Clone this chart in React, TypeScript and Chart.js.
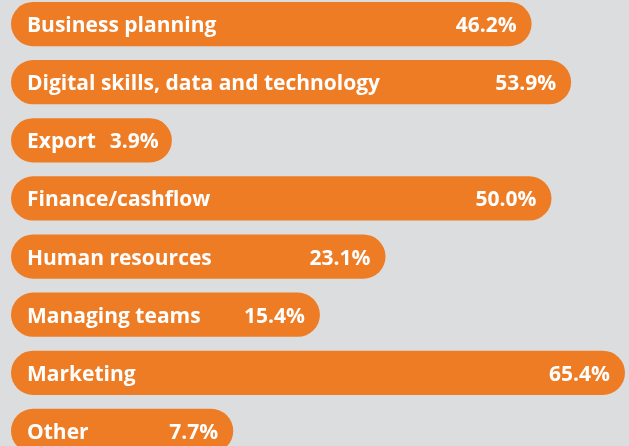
import React, { useEffect, useRef } from "react";
import { Chart, registerables, LinearScale } from "chart.js";

const categories = [
  "Business planning",
  "Digital skills, data and technology",
  "Export",
  "Finance/cashflow",
  "Human resources",
  "Managing teams",
  "Marketing",
  "Other",
];
const values = [46.2, 53.9, 3.9, 50.0, 23.1, 15.4, 65.4, 7.7];

const BG = "#dcdddf";
const ORANGE = "#ee7c25";
const FONT = "'Open Sans'";
const EXPONENT = 0.475;

// Power scale: the infographic's bar lengths grow roughly with a power of the value.
class PowScale extends LinearScale {
  static id = "pow";
  static defaults = LinearScale.defaults;
  _f(v: number) {
    return Math.pow(Math.max(0, v), EXPONENT);
  }
  getPixelForValue(value: any) {
    if (value === null || value === undefined || isNaN(value)) return NaN;
    const lo = this._f(this.min);
    const hi = this._f(this.max);
    return this.getPixelForDecimal((this._f(value) - lo) / (hi - lo));
  }
  getValueForPixel(pixel: number) {
    const d = this.getDecimalForPixel(pixel);
    const lo = this._f(this.min);
    const hi = this._f(this.max);
    return Math.pow(lo + d * (hi - lo), 1 / EXPONENT);
  }
}

Chart.register(...registerables, PowScale as any);

const labelPlugin = {
  id: "barLabels",
  afterDatasetsDraw(chart: any) {
    const ctx = chart.ctx;
    const meta = chart.getDatasetMeta(0);
    ctx.save();
    ctx.fillStyle = "#ffffff";
    ctx.font = `bold 21px ${FONT}`;
    ctx.textBaseline = "alphabetic";
    meta.data.forEach((bar: any, i: number) => {
      const y = bar.y + 8;
      const lx = chart.chartArea.left + 16;
      const label = categories[i];
      const val = values[i].toFixed(1) + "%";
      ctx.textAlign = "left";
      ctx.fillText(label, lx, y);
      const minRight = lx + ctx.measureText(label).width + 14 + ctx.measureText(val).width;
      ctx.textAlign = "right";
      ctx.fillText(val, Math.max(bar.x - 15, minRight), y);
    });
    ctx.restore();
  },
};

export default function App() {
  const ref = useRef<HTMLCanvasElement>(null);
  useEffect(() => {
    document.body.style.margin = "0";
    document.body.style.background = BG;
    const chart = new Chart(ref.current!, {
      type: "bar",
      data: {
        labels: categories,
        datasets: [
          {
            data: values,
            backgroundColor: ORANGE,
            borderRadius: 30,
            borderSkipped: false,
            categoryPercentage: 1,
            barPercentage: 0.762,
          },
        ],
      },
      options: {
        indexAxis: "y",
        animation: false,
        responsive: false,
        maintainAspectRatio: false,
        layout: { padding: { left: 11, right: 0, top: 0, bottom: 0 } },
        plugins: { legend: { display: false }, tooltip: { enabled: false } },
        scales: {
          x: { type: "pow" as any, min: 0, max: 66.3, display: false, grid: { display: false } },
          y: { display: false, grid: { display: false } },
        },
      },
      plugins: [labelPlugin],
    });
    return () => chart.destroy();
  }, []);
  return (
    <div style={{ width: 629, height: 446, overflow: "hidden", position: "relative", background: BG }}>
      <canvas
        ref={ref}
        width={629}
        height={465}
        style={{ position: "absolute", left: 0, top: -5, width: 629, height: 465 }}
      />
    </div>
  );
}
